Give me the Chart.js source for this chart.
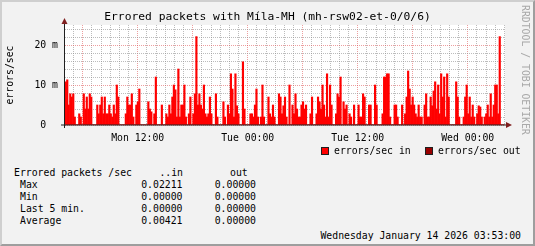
<!DOCTYPE html>
<html>
<head>
<meta charset="utf-8">
<title>Errored packets</title>
<script src="https://cdn.jsdelivr.net/npm/chart.js@4.4.1/dist/chart.umd.min.js"></script>
<style>
  html, body { margin: 0; padding: 0; background: #f2f2f2; }
  #graph {
    position: relative;
    width: 535px;
    height: 246px;
    overflow: hidden;
    background: #f2f2f2;
    font-family: "DejaVu Sans Mono", monospace;
    color: #000;
  }
  #graph canvas { position: absolute; left: 0; top: 0; }
  .frame {
    position: absolute;
    inset: 0;
    box-sizing: border-box;
    border: 2px solid;
    border-color: #cfcfcf #9e9e9e #9e9e9e #cfcfcf;
    pointer-events: none;
  }
  .title {
    position: absolute;
    left: 0;
    top: 10px;
    width: 535px;
    text-align: center;
    font-size: 11.3px;
    line-height: 14px;
    white-space: pre;
  }
  .text { position: absolute; font-size: 9.8px; line-height: 12px; white-space: pre; }
  .watermark {
    position: absolute;
    left: 519px;
    top: 5px;
    writing-mode: vertical-rl;
    font-size: 9.8px;
    line-height: 12px;
    color: #a9a9a9;
    white-space: pre;
  }
  .swatch { position: absolute; width: 6px; height: 6px; border: 1px solid #1f1f1f; }
</style>
</head>
<body>
<div id="graph">
  <canvas id="chart" width="535" height="150"></canvas>
  <div class="title">Errored packets with Míla-MH (mh-rsw02-et-0/0/6)</div>
  <div class="watermark">RRDTOOL / TOBI OETIKER</div>
  <div class="frame"></div>
</div>
<script>
// errors/sec in milli units, one value per sample
const errorsIn = [
  10.8, 11.3, 5, 7.8, 7, 7.8, 2, 0, 0, 2.8,
  2, 0, 7.8, 4, 7, 4, 7.8, 7, 0, 0,
  0, 5, 2.8, 5, 7, 2.8, 7, 2.8, 2.8, 5,
  2.8, 2, 5, 2.8, 10, 7, 0, 0, 0, 0,
  2.8, 7, 5, 5, 7.8, 2, 0, 5, 5.8, 9,
  0, 0, 0, 0, 0, 5.8, 4, 3.3, 0, 2.8,
  12, 0, 0, 0, 5, 0, 0, 2.8, 2, 5,
  2.8, 7, 10, 8.8, 2, 14, 2, 5, 5, 10,
  2, 0, 2.8, 7, 0, 2.8, 7.8, 22.1, 5, 7.8,
  5, 4, 10, 2.8, 2, 2.8, 7, 2.8, 0, 0,
  7.8, 2, 0, 0, 0, 5.8, 2, 0, 5, 2.8,
  12.8, 9, 2, 12.8, 4.8, 2.8, 0, 0, 15.8, 4,
  0, 0, 0, 2.8, 2.8, 2, 5, 9,
  2, 0, 2, 10, 2, 0, 0, 7, 2.8, 2,
  5, 2, 0, 0, 7.8, 7, 2.8, 4.8, 7, 2,
  0, 10, 0, 5, 2.8, 7.8, 4, 2, 2, 5,
  5.8, 4, 5, 0, 0, 2.8, 7, 0, 0, 2.8,
  7, 5.8, 4, 10, 5, 2, 12.8, 2, 10, 5,
  0, 0, 2.8, 7.8, 7,
  12, 0, 5.8, 4, 5, 0, 2.8, 2, 0, 5,
  0, 0, 5, 2, 2, 7.8, 7, 0, 0, 5,
  5, 0, 0, 10, 5, 0, 0, 0, 2.8, 12,
  12, 12.8, 12.8, 2, 0, 0, 5, 5,
  2, 0, 0, 5, 0, 2.8, 7, 13.5, 9, 5,
  7, 5, 2.8, 2, 5, 2, 2, 0, 5, 7.8,
  2, 2, 7, 4.8, 8.5, 10.8, 4, 10, 2.8, 12.8,
  7, 12, 2, 12.8, 7, 0, 0, 0, 0, 10.8,
  7, 2, 0, 0, 2, 7, 10, 2.8, 7, 2,
  5, 2, 0, 2.8, 4.8, 4.5, 2, 0, 2, 2.8,
  5, 2, 7.8, 2, 5, 10, 10, 2.8, 22.1, 0,
  0, 0,
];

const errorsOut = [
  0, 0, 0, 0, 0, 0, 0, 0, 0, 0, 0, 0, 0, 0, 0, 0, 0, 0, 0, 0,
  0, 0, 0, 0, 0, 0, 0, 0, 0, 0, 0, 0, 0, 0, 0, 0, 0, 0, 0, 0,
  0, 0, 0, 0, 0, 0, 0, 0, 0, 0, 0, 0, 0, 0, 0, 0, 0, 0, 0, 0,
  0, 0, 0, 0, 0, 0, 0, 0, 0, 0, 0, 0, 0, 0, 0, 0, 0, 0, 0, 0,
  0, 0, 0, 0, 0, 0, 0, 0, 0, 0, 0, 0, 0, 0, 0, 0, 0, 0, 0, 0,
  0, 0, 0, 0, 0, 0, 0, 0, 0, 0, 0, 0, 0, 0, 0, 0, 0, 0, 0, 0,
  0, 0, 0, 0, 0, 0, 0, 0, 0, 0, 0, 0, 0, 0, 0, 0, 0, 0, 0, 0,
  0, 0, 0, 0, 0, 0, 0, 0, 0, 0, 0, 0, 0, 0, 0, 0, 0, 0, 0, 0,
  0, 0, 0, 0, 0, 0, 0, 0, 0, 0, 0, 0, 0, 0, 0, 0, 0, 0, 0, 0,
  0, 0, 0, 0, 0, 0, 0, 0, 0, 0, 0, 0, 0, 0, 0, 0, 0, 0, 0, 0,
  0, 0, 0, 0, 0, 0, 0, 0, 0, 0, 0, 0, 0, 0, 0, 0, 0, 0, 0, 0,
  0, 0, 0, 0, 0, 0, 0, 0, 0, 0, 0, 0, 0, 0, 0, 0, 0, 0, 0, 0,
  0, 0, 0, 0, 0, 0, 0, 0, 0, 0, 0, 0, 0, 0, 0, 0, 0, 0, 0, 0,
  0, 0, 0, 0, 0, 0, 0, 0, 0, 0, 0, 0, 0, 0, 0, 0, 0, 0, 0, 0,
  0, 0, 0, 0, 0, 0, 0, 0, 0, 0, 0, 0, 0,
];

// hours counted from Mon 00:00
const periodStartHour = 4.07;
const periodHours = 48;
const xLabelHours = [12, 24, 36, 48];
const xLabels = ["Mon 12:00", "Tue 00:00", "Tue 12:00", "Wed 00:00"];
const yLabelValues = [0, 10, 20];
const yLabels = ["0  ", "10 m", "20 m"];
const yMax = 25;

const statNames = ["Max", "Min", "Last 5 min.", "Average"];
const statsIn = ["0.02211", "0.00000", "0.00000", "0.00421"];
const statsOut = ["0.00000", "0.00000", "0.00000", "0.00000"];
const generatedAt = "Wednesday January 14 2026 03:53:00";

const axisFont = { family: "'DejaVu Sans Mono', monospace", size: 9.8 };
const minorGrid = "rgba(143, 143, 143, 0.6)";
const majorGrid = "rgba(222, 79, 79, 0.55)";

const gridHours = [];
for (let h = Math.ceil(periodStartHour); h <= periodStartHour + periodHours; h++) gridHours.push(h);
const gridValues = [];
for (let v = 0; v < yMax; v += 2) gridValues.push(v);

function toPoints(values) {
  const step = periodHours / values.length;
  return values.map((value, i) => ({ x: periodStartHour + (i + 0.5) * step, y: value }));
}

const rrdCanvas = {
  id: "rrdCanvas",
  beforeDraw(chart) {
    const { ctx, chartArea } = chart;
    ctx.save();
    ctx.fillStyle = "#ffffff";
    ctx.fillRect(chartArea.left, chartArea.top, chartArea.width, chartArea.height);
    ctx.restore();
  },
  afterDraw(chart) {
    const { ctx } = chart;
    const { left, right, top, bottom } = chart.chartArea;
    const ax = left - 0.5;
    ctx.save();
    ctx.strokeStyle = "#1f1f1f";
    ctx.lineWidth = 1;
    ctx.beginPath();
    ctx.moveTo(ax, bottom + 3);
    ctx.lineTo(ax, top - 3);
    ctx.moveTo(left - 4, bottom);
    ctx.lineTo(right + 2, bottom);
    ctx.stroke();
    ctx.fillStyle = "#801f1f";
    ctx.beginPath();
    ctx.moveTo(ax - 3, top - 1);
    ctx.lineTo(ax + 3, top - 1);
    ctx.lineTo(ax, top - 7);
    ctx.closePath();
    ctx.fill();
    ctx.beginPath();
    ctx.moveTo(right + 1, bottom - 3);
    ctx.lineTo(right + 1, bottom + 3);
    ctx.lineTo(right + 7, bottom);
    ctx.closePath();
    ctx.fill();
    ctx.restore();
  },
};

const chart = new Chart(document.querySelector("#chart"), {
  type: "bar",
  data: {
    datasets: [
      { label: "errors/sec in", data: toPoints(errorsIn), backgroundColor: "#ff0000", borderWidth: 0 },
      { label: "errors/sec out", data: toPoints(errorsOut), backgroundColor: "#990000", borderWidth: 0 },
    ],
  },
  options: {
    responsive: false,
    animation: false,
    devicePixelRatio: 1,
    layout: { padding: { left: 0, top: 25, right: 30, bottom: 0 } },
    datasets: { bar: { grouped: false, barPercentage: 1, categoryPercentage: 1 } },
    plugins: { legend: { display: false }, tooltip: { enabled: false } },
    scales: {
      x: {
        type: "linear",
        min: periodStartHour,
        max: periodStartHour + periodHours,
        offset: false,
        afterBuildTicks: (scale) => { scale.ticks = gridHours.map((value) => ({ value })); },
        afterFit: (scale) => { scale.height = 25; },
        grid: {
          offset: false,
          drawTicks: false,
          color: (c) => (c.tick && c.tick.value % 6 === 0 ? majorGrid : minorGrid),
        },
        border: { display: false, dash: [1, 1] },
        ticks: {
          autoSkip: false,
          maxRotation: 0,
          minRotation: 0,
          padding: 8,
          color: "#000",
          font: axisFont,
          callback: (value) => {
            const i = xLabelHours.indexOf(value);
            return i >= 0 ? xLabels[i] : "";
          },
        },
      },
      y: {
        min: 0,
        max: yMax,
        afterBuildTicks: (scale) => { scale.ticks = gridValues.map((value) => ({ value })); },
        afterFit: (scale) => { scale.width = 65; },
        grid: {
          drawTicks: false,
          color: (c) => (c.tick && c.tick.value % 10 === 0 ? majorGrid : minorGrid),
        },
        border: { display: false, dash: [1, 1] },
        title: { display: true, text: "errors/sec", color: "#000", font: axisFont, padding: { top: 5, bottom: 0 } },
        ticks: {
          autoSkip: false,
          padding: 7,
          color: "#000",
          font: axisFont,
          callback: (value) => {
            const i = yLabelValues.indexOf(value);
            return i >= 0 ? yLabels[i] : "";
          },
        },
      },
    },
  },
  plugins: [rrdCanvas],
});

const graph = document.querySelector("#graph");

function place(text, x, top, align = "left") {
  const el = document.createElement("div");
  el.className = "text";
  el.textContent = text;
  el.style.top = `${top}px`;
  if (align === "right") el.style.right = `${535 - x}px`;
  else el.style.left = `${x}px`;
  graph.insertBefore(el, graph.querySelector(".frame"));
  return el;
}

// legend
const legendX = [321, 425];
chart.data.datasets.forEach((dataset, i) => {
  const swatch = document.createElement("div");
  swatch.className = "swatch";
  swatch.style.left = `${legendX[i]}px`;
  swatch.style.top = "147px";
  swatch.style.background = dataset.backgroundColor;
  graph.insertBefore(swatch, graph.querySelector(".frame"));
  place(dataset.label, legendX[i] + 13, 144.5);
});

// summary table
place("Errored packets /sec", 14, 167);
place("..in", 183, 167, "right");
place("out", 230, 167);
statNames.forEach((name, i) => {
  const top = 179 + i * 12;
  place(name, 20, top);
  place(statsIn[i], 182.5, top, "right");
  place(statsOut[i], 256, top, "right");
});
place(generatedAt, 521, 229.5, "right");
</script>
</body>
</html>
